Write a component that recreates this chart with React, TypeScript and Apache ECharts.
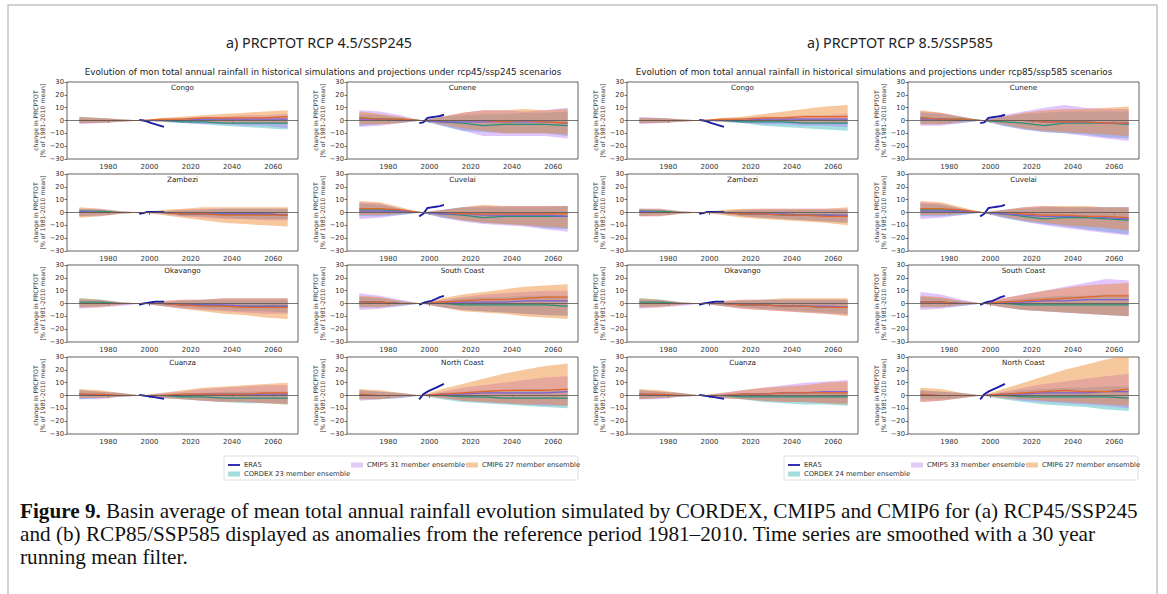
import React, { useEffect, useRef } from 'react';
import * as echarts from 'echarts';

const YEARS = [1966, 1976, 1986, 1996, 2006, 2016, 2026, 2036, 2046, 2056, 2067];
const ERA5_YEARS = [1995, 1997, 1999, 2001, 2003, 2005, 2007];
const BASINS = ['Congo', 'Cunene', 'Zambezi', 'Cuvelai', 'Okavango', 'South Coast', 'Cuanza', 'North Coast'];
const X_TICKS = [1980, 2000, 2020, 2040, 2060];

const ERA5: Record<string, number[]> = {
  'Congo': [0.5, 0, -0.8, -2, -3, -4, -5],
  'Cunene': [-2, -1.5, 2, 2.5, 3, 3.5, 4.5],
  'Zambezi': [-1, -0.5, 0.5, 0.5, 0.5, 0.3, 0.5],
  'Cuvelai': [-3, -1, 3.5, 4, 4.5, 5, 6],
  'Okavango': [-1, 0, 0.5, 1, 1.5, 1.5, 1.5],
  'South Coast': [-1, 0.5, 1.5, 2, 3.5, 5, 6],
  'Cuanza': [0.5, 0, -0.5, -1, -1.5, -2, -2.5],
  'North Coast': [-3, 1, 3, 4.5, 6, 7.5, 9],
};

// ---------- RCP4.5 / SSP245 ----------
const CORDEX_LO_45: Record<string, number[]> = {
  'Congo': [-2, -2, -1, 0, -1, -2, -3, -4, -5, -6, -7],
  'Cunene': [-4, -3, -2, 0, -4, -8, -9, -10, -10, -10, -12],
  'Zambezi': [-3, -2, -1, 0, -1, -3, -3, -4, -5, -5, -5],
  'Cuvelai': [-3, -3, -2, 0, -4, -6, -8, -9, -10, -12, -13],
  'Okavango': [-3, -2, -1, 0, -2, -3, -4, -5, -6, -6, -7],
  'South Coast': [-3, -3, -2, 0, -3, -5, -6, -7, -8, -9, -10],
  'Cuanza': [-3, -2, -1, 0, -2, -3, -4, -5, -6, -6, -7],
  'North Coast': [-3, -3, -2, 0, -3, -5, -6, -7, -8, -9, -10],
};
const CORDEX_HI_45: Record<string, number[]> = {
  'Congo': [3, 2, 1, 0, 1, 1, 2, 2, 2, 3, 3],
  'Cunene': [5, 4, 2, 0, 3, 4, 5, 5, 6, 6, 7],
  'Zambezi': [3, 2, 1, 0, 1, 2, 2, 3, 3, 3, 3],
  'Cuvelai': [7, 6, 3, 0, 2, 4, 4, 4, 4, 4, 5],
  'Okavango': [4, 3, 1, 0, 1, 2, 3, 3, 3, 3, 3],
  'South Coast': [5, 4, 2, 0, 2, 4, 5, 5, 6, 6, 6],
  'Cuanza': [4, 3, 2, 0, 1, 2, 2, 3, 3, 3, 3],
  'North Coast': [4, 3, 2, 0, 2, 3, 4, 4, 5, 5, 5],
};
const CORDEX_MEAN_45: Record<string, number[]> = {
  'Congo': [0, 0, 0, 0, 0, -1, -1, -2, -2, -2, -2],
  'Cunene': [2, 1, 1, 0, -1, -2, -4, -3, -3, -3, -4],
  'Zambezi': [1, 1, 0, 0, 0, -1, -1, -1, -1, -1, -2],
  'Cuvelai': [2, 2, 1, 0, -1, -2, -4, -3, -3, -3, -3],
  'Okavango': [1, 1, 0, 0, 0, -1, -1, -2, -2, -2, -2],
  'South Coast': [1, 1, 0, 0, 0, -1, -1, -1, -1, -1, -2],
  'Cuanza': [1, 0, 0, 0, 0, -1, -1, -2, -2, -2, -2],
  'North Coast': [0, 0, 0, 0, 0, -1, -1, -2, -2, -2, -2],
};
const CMIP5_LO_45: Record<string, number[]> = {
  'Congo': [-3, -2, -1, 0, -1, -2, -3, -3, -4, -4, -6],
  'Cunene': [-5, -4, -2, 0, -4, -8, -12, -12, -12, -12, -14],
  'Zambezi': [-3, -3, -1, 0, -1, -3, -4, -5, -5, -6, -6],
  'Cuvelai': [-5, -4, -2, 0, -4, -7, -9, -10, -11, -13, -15],
  'Okavango': [-4, -3, -2, 0, -2, -4, -5, -6, -7, -8, -8],
  'South Coast': [-5, -4, -2, 0, -3, -5, -6, -7, -8, -9, -9],
  'Cuanza': [-3, -3, -1, 0, -2, -3, -4, -5, -5, -6, -6],
  'North Coast': [-4, -3, -2, 0, -2, -4, -5, -6, -7, -8, -8],
};
const CMIP5_HI_45: Record<string, number[]> = {
  'Congo': [2, 2, 1, 0, 1, 2, 3, 3, 4, 4, 5],
  'Cunene': [8, 7, 4, 0, 3, 6, 8, 8, 7, 8, 10],
  'Zambezi': [3, 3, 1, 0, 1, 2, 3, 3, 3, 3, 3],
  'Cuvelai': [8, 7, 3, 0, 2, 4, 5, 5, 5, 5, 5],
  'Okavango': [3, 3, 1, 0, 2, 3, 3, 4, 4, 4, 4],
  'South Coast': [8, 6, 3, 0, 3, 5, 7, 8, 9, 10, 10],
  'Cuanza': [4, 3, 2, 0, 2, 3, 5, 6, 7, 8, 8],
  'North Coast': [4, 3, 2, 0, 3, 6, 8, 10, 12, 14, 15],
};
const CMIP5_MEAN_45: Record<string, number[]> = {
  'Congo': [0, 0, 0, 0, 0, 0, 1, 1, 1, 1, 1],
  'Cunene': [1, 1, 0, 0, -1, -1, -1, -1, -1, -1, -2],
  'Zambezi': [1, 0, 0, 0, 0, -1, -1, -1, -1, -1, -2],
  'Cuvelai': [1, 1, 1, 0, -1, -1, -2, -2, -2, -2, -3],
  'Okavango': [0, 0, 0, 0, 0, -1, -1, -1, -2, -2, -2],
  'South Coast': [1, 1, 0, 0, 1, 1, 1, 1, 2, 2, 2],
  'Cuanza': [1, 0, 0, 0, 0, 0, 1, 1, 1, 1, 1],
  'North Coast': [0, 0, 0, 0, 1, 1, 2, 2, 2, 2, 3],
};
const CMIP6_LO_45: Record<string, number[]> = {
  'Congo': [-2, -2, -1, 0, -1, -1, -1, -2, -2, -2, -3],
  'Cunene': [-3, -3, -2, 0, -3, -6, -8, -10, -10, -10, -11],
  'Zambezi': [-4, -3, -1, 0, -2, -4, -6, -8, -9, -10, -11],
  'Cuvelai': [-2, -2, -1, 0, -3, -6, -8, -9, -10, -11, -12],
  'Okavango': [-3, -3, -1, 0, -2, -4, -6, -8, -9, -11, -12],
  'South Coast': [-3, -3, -1, 0, -3, -6, -7, -8, -10, -11, -12],
  'Cuanza': [-2, -2, -1, 0, -2, -3, -4, -5, -5, -6, -7],
  'North Coast': [-3, -3, -1, 0, -2, -4, -5, -6, -7, -7, -8],
};
const CMIP6_HI_45: Record<string, number[]> = {
  'Congo': [3, 2, 1, 0, 2, 3, 4, 5, 6, 7, 8],
  'Cunene': [7, 5, 3, 0, 3, 6, 8, 8, 9, 8, 9],
  'Zambezi': [4, 3, 1, 0, 2, 3, 4, 4, 4, 4, 4],
  'Cuvelai': [9, 8, 4, 0, 2, 4, 6, 5, 5, 5, 5],
  'Okavango': [4, 3, 1, 0, 2, 3, 3, 4, 4, 4, 4],
  'South Coast': [6, 5, 2, 0, 4, 7, 9, 11, 13, 14, 15],
  'Cuanza': [5, 4, 2, 0, 2, 4, 6, 7, 8, 9, 10],
  'North Coast': [5, 4, 2, 0, 5, 9, 13, 17, 20, 23, 25],
};
const CMIP6_MEAN_45: Record<string, number[]> = {
  'Congo': [0, 0, 0, 0, 1, 1, 2, 2, 2, 2, 3],
  'Cunene': [2, 1, 1, 0, 0, 0, 0, -1, 0, -1, -2],
  'Zambezi': [0, 0, 0, 0, 0, -1, -1, -2, -2, -2, -2],
  'Cuvelai': [3, 3, 2, 0, 0, -1, -1, -1, -1, -1, -1],
  'Okavango': [0, 0, 0, 0, 0, -1, -2, -2, -3, -3, -3],
  'South Coast': [1, 1, 0, 0, 1, 2, 3, 3, 4, 5, 5],
  'Cuanza': [1, 1, 0, 0, 0, 1, 1, 1, 1, 2, 2],
  'North Coast': [1, 0, 0, 0, 1, 2, 3, 4, 4, 4, 5],
};

// ---------- RCP8.5 / SSP585 ----------
const CORDEX_LO_85: Record<string, number[]> = {
  'Congo': [-2, -2, -1, 0, -1, -2, -4, -5, -6, -7, -8],
  'Cunene': [-3, -3, -2, 0, -4, -7, -9, -10, -11, -13, -14],
  'Zambezi': [-3, -2, -1, 0, -1, -3, -4, -5, -6, -7, -8],
  'Cuvelai': [-3, -3, -2, 0, -4, -7, -9, -11, -13, -15, -17],
  'Okavango': [-3, -2, -1, 0, -2, -3, -4, -5, -6, -7, -8],
  'South Coast': [-3, -3, -2, 0, -3, -5, -6, -7, -8, -9, -10],
  'Cuanza': [-3, -2, -1, 0, -2, -3, -5, -6, -7, -7, -8],
  'North Coast': [-3, -3, -2, 0, -3, -5, -7, -8, -9, -11, -12],
};
const CORDEX_HI_85: Record<string, number[]> = {
  'Congo': [2, 2, 1, 0, 1, 1, 2, 2, 2, 2, 2],
  'Cunene': [6, 5, 3, 0, 3, 5, 6, 7, 7, 7, 7],
  'Zambezi': [3, 2, 1, 0, 1, 2, 2, 2, 2, 2, 2],
  'Cuvelai': [7, 6, 3, 0, 2, 3, 4, 4, 4, 4, 4],
  'Okavango': [4, 3, 1, 0, 1, 2, 3, 3, 3, 3, 3],
  'South Coast': [5, 4, 2, 0, 2, 4, 5, 6, 6, 7, 7],
  'Cuanza': [4, 3, 2, 0, 1, 2, 2, 3, 3, 3, 3],
  'North Coast': [4, 3, 2, 0, 2, 4, 5, 6, 6, 7, 7],
};
const CORDEX_MEAN_85: Record<string, number[]> = {
  'Congo': [0, 0, 0, 0, 0, -1, -1, -1, -2, -2, -2],
  'Cunene': [2, 1, 1, 0, -1, -2, -4, -2, -2, -2, -3],
  'Zambezi': [1, 1, 0, 0, 0, -1, -1, -2, -2, -2, -3],
  'Cuvelai': [2, 2, 1, 0, -1, -3, -5, -4, -4, -5, -6],
  'Okavango': [1, 1, 0, 0, 0, -1, -1, -2, -2, -3, -3],
  'South Coast': [1, 1, 0, 0, 0, -1, -1, -1, -1, -1, -1],
  'Cuanza': [1, 0, 0, 0, 0, -1, -1, -1, -1, -1, -1],
  'North Coast': [0, 0, 0, 0, 0, -1, -1, -1, -1, -1, -2],
};
const CMIP5_LO_85: Record<string, number[]> = {
  'Congo': [-3, -2, -1, 0, -1, -2, -3, -3, -4, -4, -5],
  'Cunene': [-4, -4, -2, 0, -4, -7, -9, -10, -12, -14, -16],
  'Zambezi': [-3, -3, -1, 0, -1, -3, -4, -5, -6, -7, -8],
  'Cuvelai': [-5, -4, -2, 0, -4, -7, -10, -12, -14, -16, -18],
  'Okavango': [-4, -3, -2, 0, -2, -4, -5, -6, -7, -8, -9],
  'South Coast': [-5, -4, -2, 0, -3, -5, -6, -7, -8, -9, -10],
  'Cuanza': [-3, -3, -1, 0, -2, -3, -4, -5, -5, -6, -6],
  'North Coast': [-5, -4, -2, 0, -2, -4, -5, -6, -7, -8, -10],
};
const CMIP5_HI_85: Record<string, number[]> = {
  'Congo': [3, 2, 1, 0, 1, 2, 3, 3, 4, 4, 5],
  'Cunene': [7, 6, 3, 0, 4, 7, 10, 12, 10, 9, 9],
  'Zambezi': [3, 3, 1, 0, 1, 2, 3, 3, 3, 3, 3],
  'Cuvelai': [8, 7, 3, 0, 2, 4, 5, 4, 4, 4, 4],
  'Okavango': [3, 3, 1, 0, 2, 3, 3, 3, 3, 3, 3],
  'South Coast': [9, 7, 3, 0, 4, 7, 10, 13, 16, 19, 18],
  'Cuanza': [4, 3, 2, 0, 2, 4, 6, 8, 10, 11, 12],
  'North Coast': [4, 3, 2, 0, 3, 6, 9, 11, 13, 15, 17],
};
const CMIP5_MEAN_85: Record<string, number[]> = {
  'Congo': [0, 0, 0, 0, 0, 0, 1, 1, 1, 1, 1],
  'Cunene': [1, 1, 0, 0, 0, 0, -1, -1, -1, -2, -2],
  'Zambezi': [1, 0, 0, 0, 0, -1, -1, -1, -2, -2, -2],
  'Cuvelai': [1, 1, 1, 0, -1, -2, -3, -3, -3, -4, -5],
  'Okavango': [0, 0, 0, 0, 0, -1, -1, -2, -2, -2, -3],
  'South Coast': [1, 1, 0, 0, 1, 1, 2, 2, 3, 3, 3],
  'Cuanza': [1, 0, 0, 0, 0, 1, 1, 2, 2, 3, 3],
  'North Coast': [0, 0, 0, 0, 1, 1, 2, 2, 2, 3, 3],
};
const CMIP6_LO_85: Record<string, number[]> = {
  'Congo': [-2, -2, -1, 0, -1, -1, -1, -1, -2, -2, -2],
  'Cunene': [-3, -3, -1, 0, -3, -6, -8, -9, -10, -11, -12],
  'Zambezi': [-3, -3, -1, 0, -2, -4, -5, -6, -7, -8, -10],
  'Cuvelai': [-2, -2, -1, 0, -3, -6, -8, -10, -11, -12, -14],
  'Okavango': [-3, -3, -1, 0, -2, -4, -5, -6, -7, -8, -10],
  'South Coast': [-3, -3, -1, 0, -3, -5, -6, -7, -8, -9, -10],
  'Cuanza': [-3, -2, -1, 0, -2, -3, -4, -5, -5, -6, -7],
  'North Coast': [-5, -4, -2, 0, -2, -3, -4, -5, -6, -7, -8],
};
const CMIP6_HI_85: Record<string, number[]> = {
  'Congo': [2, 2, 1, 0, 2, 3, 5, 7, 9, 11, 12],
  'Cunene': [8, 6, 3, 0, 3, 6, 8, 9, 9, 10, 11],
  'Zambezi': [3, 3, 1, 0, 2, 3, 3, 3, 3, 3, 4],
  'Cuvelai': [9, 8, 4, 0, 2, 4, 5, 5, 5, 4, 4],
  'Okavango': [4, 3, 1, 0, 2, 3, 3, 4, 4, 4, 4],
  'South Coast': [6, 5, 2, 0, 4, 7, 10, 12, 14, 15, 16],
  'Cuanza': [5, 4, 2, 0, 2, 4, 6, 7, 8, 10, 11],
  'North Coast': [6, 5, 2, 0, 5, 10, 15, 20, 24, 28, 32],
};
const CMIP6_MEAN_85: Record<string, number[]> = {
  'Congo': [0, 0, 0, 0, 1, 1, 2, 2, 3, 3, 3],
  'Cunene': [2, 1, 1, 0, 0, 0, -1, -1, -1, -2, -2],
  'Zambezi': [0, 0, 0, 0, 0, -1, -1, -2, -2, -3, -3],
  'Cuvelai': [3, 3, 2, 0, 0, -1, -2, -2, -3, -3, -4],
  'Okavango': [0, 0, 0, 0, 0, -1, -1, -2, -2, -3, -3],
  'South Coast': [1, 1, 0, 0, 1, 2, 3, 4, 5, 6, 6],
  'Cuanza': [1, 1, 0, 0, 0, 1, 1, 2, 2, 2, 2],
  'North Coast': [1, 0, 0, 0, 1, 2, 3, 4, 3, 3, 5],
};

const HEADINGS = ['a) PRCPTOT RCP 4.5/SSP245', 'a) PRCPTOT RCP 8.5/SSP585'];
const SUBTITLES = [
  'Evolution of mon total annual rainfall in historical simulations and projections under rcp45/ssp245 scenarios',
  'Evolution of mon total annual rainfall in historical simulations and projections under rcp85/ssp585 scenarios',
];
const LEGEND_LABELS = [
  ['ERA5', 'CORDEX 23 member ensemble', 'CMIP5 31 member ensemble', 'CMIP6 27 member ensemble'],
  ['ERA5', 'CORDEX 24 member ensemble', 'CMIP5 33 member ensemble', 'CMIP6 27 member ensemble'],
];
const CAPTION_LINES = [
  '{b|Figure 9.} Basin average of mean total annual rainfall evolution simulated by CORDEX, CMIP5 and CMIP6 for (a) RCP45/SSP245',
  'and (b) RCP85/SSP585 displayed as anomalies from the reference period 1981–2010. Time series are smoothed with a 30 year',
  'running mean filter.',
];

const SCENARIOS = [
  [
    [CORDEX_LO_45, CORDEX_HI_45, CORDEX_MEAN_45],
    [CMIP5_LO_45, CMIP5_HI_45, CMIP5_MEAN_45],
    [CMIP6_LO_45, CMIP6_HI_45, CMIP6_MEAN_45],
  ],
  [
    [CORDEX_LO_85, CORDEX_HI_85, CORDEX_MEAN_85],
    [CMIP5_LO_85, CMIP5_HI_85, CMIP5_MEAN_85],
    [CMIP6_LO_85, CMIP6_HI_85, CMIP6_MEAN_85],
  ],
];

// styling / layout
const BAND_COLORS = ['rgba(55,185,185,0.45)', 'rgba(180,110,250,0.40)', 'rgba(238,130,40,0.45)'];
const MEAN_COLORS = ['#24907a', '#7a62d8', '#e2662a'];
const LEGEND_PATCH = ['#a6dcdc', '#e2cbf8', '#f5c89f'];
const ERA5_COLOR = '#1c1ca6';
const COL_LEFTS = [67, 347, 627, 908];
const ROW_TOPS = [82, 174, 265, 357];
const PW = 231;
const PH = 77;
const FONT = 'DejaVu Sans';

function bandSeries(g: number, lo: number[], hi: number[], color: string) {
  return {
    type: 'custom', xAxisIndex: g, yAxisIndex: g, silent: true, z: 1, clip: true,
    data: YEARS.map((y, i) => [y, lo[i], hi[i]]),
    encode: { x: 0, y: [1, 2] },
    renderItem: (params: any, api: any) => {
      if (params.dataIndex !== 0) return null;
      const pts: number[][] = [];
      for (let i = 0; i < YEARS.length; i++) pts.push(api.coord([YEARS[i], hi[i]]));
      for (let i = YEARS.length - 1; i >= 0; i--) pts.push(api.coord([YEARS[i], lo[i]]));
      return { type: 'polygon', shape: { points: pts }, style: { fill: color, stroke: 'none' } };
    },
  };
}

function buildOption() {
  const grids: any[] = [];
  const xAxes: any[] = [];
  const yAxes: any[] = [];
  const series: any[] = [];
  const graphics: any[] = [];

  // page border
  graphics.push({
    type: 'rect', shape: { x: 8, y: 5, width: 1149, height: 640 },
    style: { fill: 'none', stroke: '#c4c4c4', lineWidth: 1.5 }, silent: true,
  });

  const fmtY = (v: number) => (v < 0 ? '\u2212' + Math.abs(v) : String(v));

  let g = 0;
  for (let s = 0; s < 2; s++) {
    const ens = SCENARIOS[s];
    for (let b = 0; b < BASINS.length; b++) {
      const basin = BASINS[b];
      const row = Math.floor(b / 2);
      const col = s * 2 + (b % 2);
      const left = COL_LEFTS[col];
      const top = ROW_TOPS[row];
      grids.push({ left, top, width: PW, height: PH, show: true, borderColor: '#3a3a3a', borderWidth: 0.8, backgroundColor: 'transparent' });
      xAxes.push({
        type: 'value', gridIndex: g, min: 1960, max: 2072, interval: 20,
        axisLine: { show: false }, splitLine: { show: false },
        axisTick: { show: true, length: 2.5, lineStyle: { color: '#333', width: 0.7 } },
        axisLabel: {
          fontSize: 7, color: '#333', margin: 4, fontFamily: FONT,
          showMinLabel: false, showMaxLabel: false,
          formatter: (v: number) => (X_TICKS.indexOf(v) >= 0 ? String(v) : ''),
        },
      });
      yAxes.push({
        type: 'value', gridIndex: g, min: -30, max: 30, interval: 10,
        axisLine: { show: false }, splitLine: { show: false },
        axisTick: { show: true, length: 2.5, lineStyle: { color: '#333', width: 0.7 } },
        axisLabel: { fontSize: 6.8, color: '#333', margin: 3, fontFamily: FONT, formatter: fmtY },
        name: 'change in PRCPTOT\n[% of 1981-2010 mean]', nameLocation: 'middle', nameGap: 16, nameRotate: 90,
        nameTextStyle: { fontSize: 6.2, lineHeight: 7, color: '#333', fontFamily: FONT },
      });

      // bands
      for (let e = 0; e < 3; e++) {
        series.push(bandSeries(g, ens[e][0][basin], ens[e][1][basin], BAND_COLORS[e]));
      }
      // means
      for (let e = 0; e < 3; e++) {
        const m = ens[e][2][basin];
        const extra: any = {};
        if (e === 2) {
          extra.markLine = {
            silent: true, symbol: 'none', label: { show: false }, animation: false,
            lineStyle: { color: '#555', width: 0.8, type: 'solid' }, data: [{ yAxis: 0 }],
          };
        }
        series.push({
          type: 'line', xAxisIndex: g, yAxisIndex: g, data: YEARS.map((y, i) => [y, m[i]]),
          symbol: 'none', silent: true, lineStyle: { color: MEAN_COLORS[e], width: 1.2 }, z: 3, ...extra,
        });
      }
      // ERA5
      const era = ERA5[basin];
      series.push({
        type: 'line', xAxisIndex: g, yAxisIndex: g, data: ERA5_YEARS.map((y, i) => [y, era[i]]),
        symbol: 'none', silent: true, lineStyle: { color: ERA5_COLOR, width: 1.9 }, z: 4,
      });

      // panel title
      graphics.push({
        type: 'text', x: left + PW / 2, y: top + 5, silent: true, z: 10,
        style: { text: basin, fill: '#222', fontSize: 7.2, fontFamily: FONT, align: 'center', textAlign: 'center', verticalAlign: 'middle', textVerticalAlign: 'middle' },
      });
      g++;
    }

    const off = s * 560;
    // heading
    graphics.push({
      type: 'text', x: 319 + off + (s ? 21 : 0), y: 42, silent: true,
      style: { text: HEADINGS[s], fill: '#222', fontSize: 14.3, fontFamily: 'Noto Sans', align: 'center', textAlign: 'center', verticalAlign: 'middle', textVerticalAlign: 'middle' },
    });
    graphics.push({
      type: 'text', x: 323 + off - (s ? 9 : 0), y: 72, silent: true,
      style: { text: SUBTITLES[s], fill: '#222', fontSize: 8.8, fontFamily: FONT, align: 'center', textAlign: 'center', verticalAlign: 'middle', textVerticalAlign: 'middle' },
    });
    // legend
    const lx = 224 + off;
    graphics.push({
      type: 'rect', shape: { x: lx, y: 456, width: 354, height: 24, r: 1.5 }, silent: true,
      style: { fill: '#fff', stroke: '#d6d6d6', lineWidth: 0.8 },
    });
    const labs = LEGEND_LABELS[s];
    graphics.push({ type: 'line', shape: { x1: lx + 4, y1: 465, x2: lx + 16, y2: 465 }, silent: true, style: { stroke: ERA5_COLOR, lineWidth: 1.8 } });
    const items = [
      { x: lx + 4, y: 474, label: labs[1], color: LEGEND_PATCH[0] },
      { x: lx + 127, y: 465, label: labs[2], color: LEGEND_PATCH[1] },
      { x: lx + 242, y: 465, label: labs[3], color: LEGEND_PATCH[2] },
    ];
    graphics.push({ type: 'text', x: lx + 20, y: 465, silent: true, style: { text: labs[0], fill: '#333', fontSize: 6.8, fontFamily: FONT, verticalAlign: 'middle', textVerticalAlign: 'middle' } });
    for (const it of items) {
      graphics.push({ type: 'rect', shape: { x: it.x, y: it.y - 2.5, width: 12, height: 5 }, silent: true, style: { fill: it.color } });
      graphics.push({ type: 'text', x: it.x + 16, y: it.y, silent: true, style: { text: it.label, fill: '#333', fontSize: 6.8, fontFamily: FONT, verticalAlign: 'middle', textVerticalAlign: 'middle' } });
    }
  }

  // caption
  CAPTION_LINES.forEach((line, i) => {
    graphics.push({
      type: 'text', x: 20, y: 511 + i * 23, silent: true,
      style: {
        text: line, fill: '#111', fontSize: 21.2, fontFamily: 'Liberation Serif',
        verticalAlign: 'middle', textVerticalAlign: 'middle',
        rich: { b: { fontWeight: 'bold', fontSize: 21.2, fontFamily: 'Liberation Serif', fill: '#111' } },
      },
    });
  });

  return {
    animation: false,
    backgroundColor: '#ffffff',
    textStyle: { fontFamily: FONT },
    grid: grids,
    xAxis: xAxes,
    yAxis: yAxes,
    series,
    graphic: { elements: graphics },
  };
}

export default function App() {
  const ref = useRef<HTMLDivElement>(null);
  useEffect(() => {
    if (!ref.current) return;
    const chart = echarts.init(ref.current, null, { renderer: 'svg' });
    chart.setOption(buildOption() as any);
    return () => chart.dispose();
  }, []);
  return <div ref={ref} style={{ position: 'absolute', left: 0, top: 0, width: 1167, height: 594, background: '#fff' }} />;
}
